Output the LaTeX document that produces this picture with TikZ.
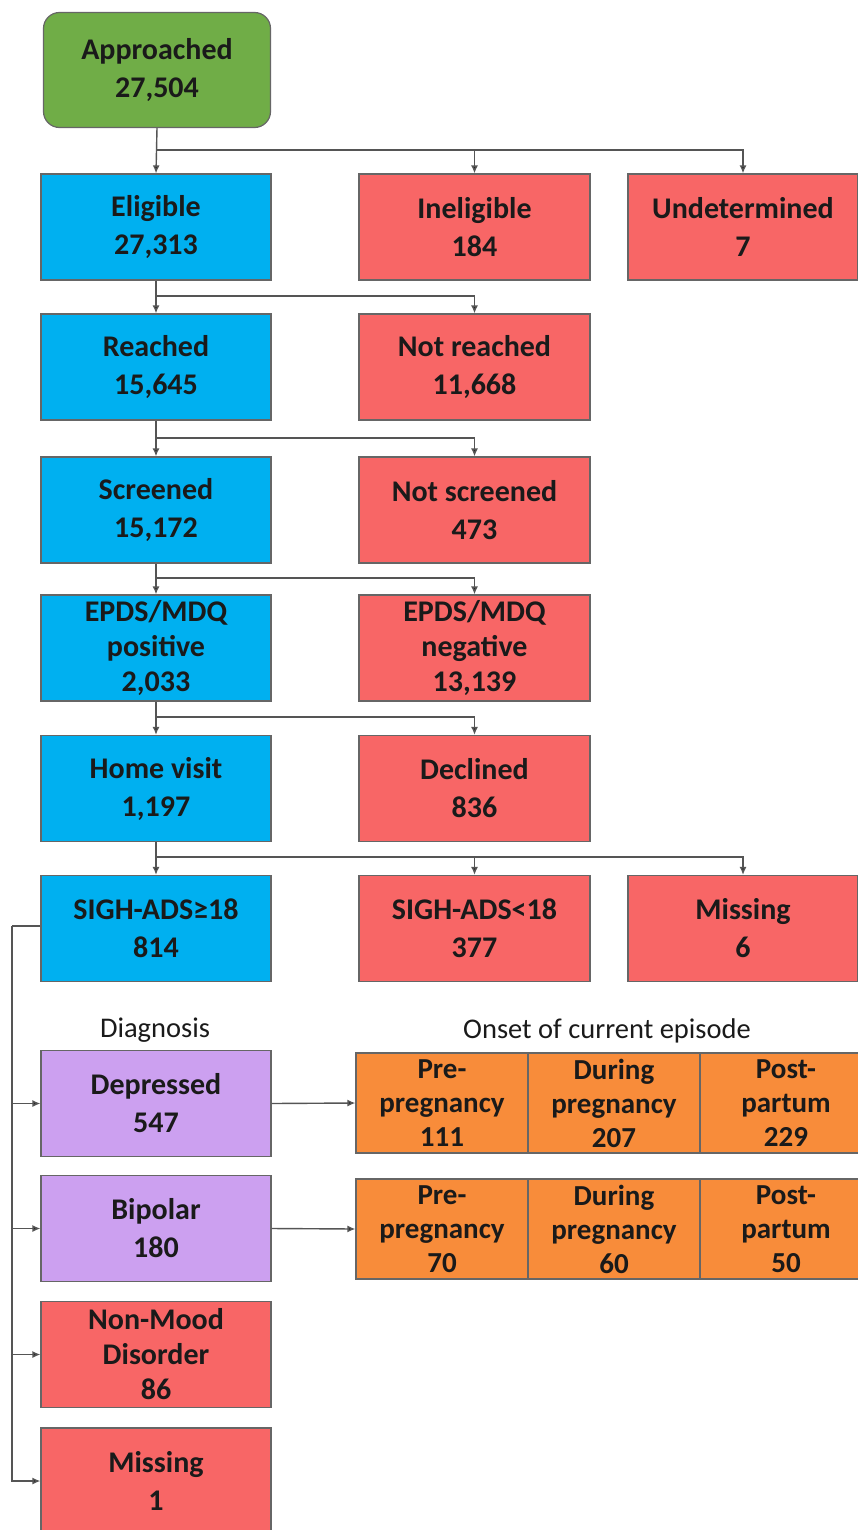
\documentclass[tikz,border=0pt]{standalone}
\usepackage{fontspec}
\setmainfont{Carlito}
\usetikzlibrary{arrows.meta}
\definecolor{cgreen}{HTML}{70AD47}
\definecolor{cblue}{HTML}{00B0F0}
\definecolor{cred}{HTML}{F86666}
\definecolor{cpurple}{HTML}{CCA0F0}
\definecolor{corange}{HTML}{F88C3A}
\definecolor{cline}{HTML}{555555}
\definecolor{ctext}{HTML}{1A1A1A}
\tikzset{
  box/.style={draw=black!60, line width=1.2pt, rectangle, minimum width=230pt, minimum height=106pt,
    align=center, inner sep=0pt, text=ctext, font=\bfseries\fontsize{30}{38}\selectfont},
  tri/.style={box, font=\bfseries\fontsize{30}{35}\selectfont},
  cell/.style={box, minimum width=172pt, minimum height=100pt, font=\bfseries\fontsize{29}{34}\selectfont},
  bluebox/.style={box, fill=cblue},
  redbox/.style={box, fill=cred},
  purplebox/.style={box, fill=cpurple},
  orangecell/.style={cell, fill=corange},
  conn/.style={draw=cline, line width=1.4pt},
  arr/.style={conn, -{Latex[length=8pt,width=7pt,fill=black!85]}},
  lbl/.style={text=ctext, font=\fontsize{28.5}{32}\selectfont, inner sep=0pt}
}
\begin{document}
\begin{tikzpicture}[x=1pt,y=-1pt]
\path[use as bounding box, fill=white] (0,0) rectangle (858,1530);

% top
\node[box, fill=cgreen, rounded corners=16pt, minimum width=227pt, minimum height=115pt] (app) at (157,70) {Approached\\27,504};

\node[bluebox] (elig) at (156,227) {Eligible\\27,313};
\node[redbox, minimum width=231pt] (inel) at (474.5,227) {Ineligible\\184};
\node[redbox] (undet) at (743,227) {Undetermined\\7};

\node[bluebox] (reach) at (156,367) {Reached\\15,645};
\node[redbox, minimum width=231pt] (nreach) at (474.5,367) {Not reached\\11,668};

\node[bluebox] (scr) at (156,510) {Screened\\15,172};
\node[redbox, minimum width=231pt] (nscr) at (474.5,510) {Not screened\\473};

\node[bluebox, tri] (pos) at (156,648) {EPDS/MDQ\\positive\\2,033};
\node[redbox, tri, minimum width=231pt] (neg) at (474.5,648) {EPDS/MDQ\\negative\\13,139};

\node[bluebox] (home) at (156,788.5) {Home visit\\1,197};
\node[redbox, minimum width=231pt] (decl) at (474.5,788.5) {Declined\\836};

\node[bluebox] (sigh) at (156,928.5) {SIGH-ADS≥18\\814};
\node[redbox, minimum width=231pt] (sighl) at (474.5,928.5) {SIGH-ADS<18\\377};
\node[redbox] (miss1) at (743,928.5) {Missing\\6};

% labels
\node[lbl] (diag) at (155,1030) {Diagnosis};
\node[lbl] (onset) at (607,1031) {Onset of current episode};

% diagnosis boxes
\node[purplebox] (dep) at (156,1103.5) {Depressed\\547};
\node[purplebox] (bip) at (156,1228.5) {Bipolar\\180};
\node[redbox, tri] (nonmood) at (156,1354.5) {Non-Mood\\Disorder\\86};
\node[redbox, minimum height=106pt] (miss2) at (156,1481) {Missing\\1};

% onset cells
\node[orangecell] (o11) at (442,1103) {Pre-\\pregnancy\\111};
\node[orangecell] (o12) at (614,1103) {During\\pregnancy\\207};
\node[orangecell] (o13) at (786,1103) {Post-\\partum\\229};
\node[orangecell] (o21) at (442,1229) {Pre-\\pregnancy\\70};
\node[orangecell] (o22) at (614,1229) {During\\pregnancy\\60};
\node[orangecell] (o23) at (786,1229) {Post-\\partum\\50};

% junction coordinates
\coordinate (j1) at (157,150);
\coordinate (j2) at (156,296);
\coordinate (j3) at (156,438);
\coordinate (j4) at (156,578);
\coordinate (j5) at (156,717);
\coordinate (j6) at (156,857);
\coordinate (trunk) at (12,926);

% connectors
\draw[arr] (app.south) -- (elig.north);
\draw[arr] (j1) -| (inel.north);
\draw[arr] (j1) -| (undet.north);

\draw[arr] (elig.south) -- (reach.north);
\draw[arr] (j2) -| (nreach.north);

\draw[arr] (reach.south) -- (scr.north);
\draw[arr] (j3) -| (nscr.north);

\draw[arr] (scr.south) -- (pos.north);
\draw[arr] (j4) -| (neg.north);

\draw[arr] (pos.south) -- (home.north);
\draw[arr] (j5) -| (decl.north);

\draw[arr] (home.south) -- (sigh.north);
\draw[arr] (j6) -| (sighl.north);
\draw[arr] (j6) -| (miss1.north);

\draw[conn] (sigh.west |- trunk) -- (trunk);
\draw[arr] (trunk) |- (dep.west);
\draw[arr] (trunk) |- (bip.west);
\draw[arr] (trunk) |- (nonmood.west);
\draw[arr] (trunk) |- (miss2.west);

\draw[arr] (dep.east) -- (o11.west);
\draw[arr] (bip.east) -- (o21.west);
\end{tikzpicture}
\end{document}
